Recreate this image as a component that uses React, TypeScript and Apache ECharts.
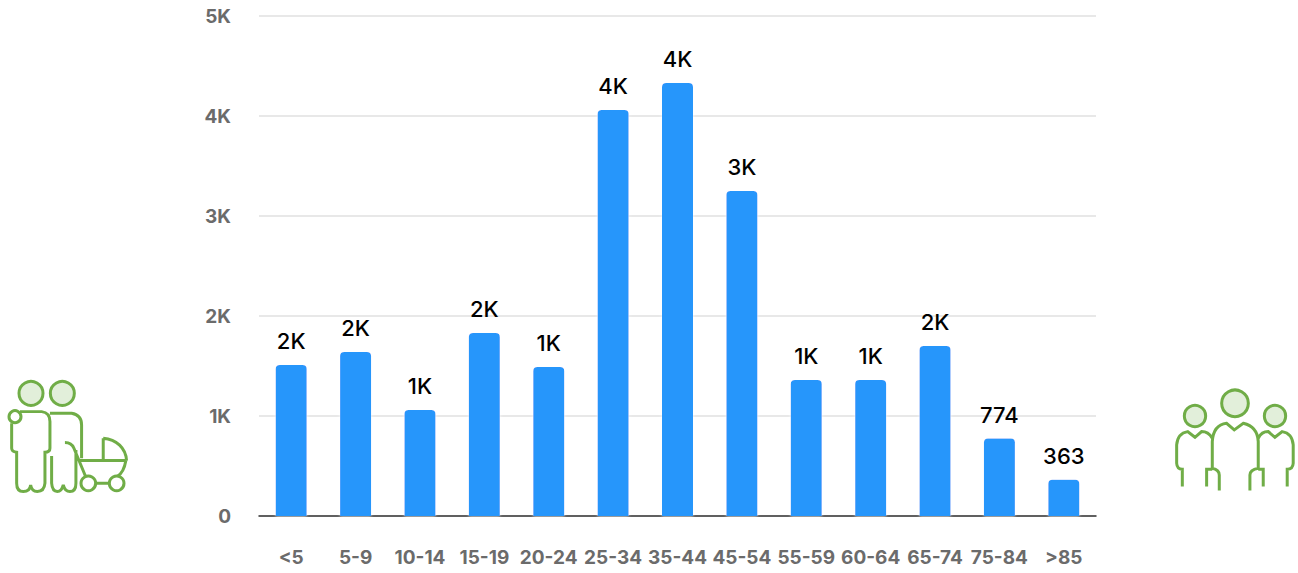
import React, { useEffect, useRef } from "react";
import * as echarts from "echarts";

const categories = ["<5", "5-9", "10-14", "15-19", "20-24", "25-34", "35-44", "45-54", "55-59", "60-64", "65-74", "75-84", ">85"];
const population = [1510, 1640, 1060, 1830, 1490, 4060, 4330, 3250, 1360, 1360, 1700, 774, 363];
const yTicks = { max: 5000, step: 1000 };

const FONT = "Inter";
const GREEN = "#70AD47";
const PALE = "#E2EFDA";

const couplePath =
  "M60 125L125 125Q150 128 150 155L150 235Q150 247 135 247L135 340Q133 365 112 365Q95 365 92 345Q90 365 70 365Q50 365 50 340L50 247Q35 245 35 235L35 160" +
  "M150 130L215 130Q245 135 245 165L245 265" +
  "M155 258L155 340Q157 365 172 365Q185 365 190 345Q195 365 210 365Q228 365 228 340L228 240" +
  "M195 218Q215 218 222 235L258 322" +
  "M240 272L378 272Q372 308 352 320" +
  "M287 340L328 340" +
  "M310 205L310 272M310 205C350 208 378 235 380 272";
const familyPath =
  "M142 265L142 185Q145 135 185 130L208 150L235 130Q278 140 280 185L280 265" +
  "M142 265Q163 270 163 285L163 332M280 265Q255 270 255 285L255 332" +
  "M142 175Q130 155 110 155L90 172L68 155Q38 160 35 195L35 250Q36 268 52 268L52 320M125 320L125 268L142 268" +
  "M280 175Q290 155 310 155L330 172L352 155Q382 160 385 195L385 250Q384 268 367 268L367 320M295 320L295 268L280 268";

echarts.graphic.registerShape("couple", echarts.graphic.extendPath(couplePath, {}));
echarts.graphic.registerShape("family", echarts.graphic.extendPath(familyPath, {}));

function fmt(v: number) {
  return v >= 1000 ? `${Math.round(v / 1000)}K` : `${v}`;
}

function circle(ox: number, oy: number, cx: number, cy: number, r: number, fill: string) {
  return {
    type: "circle",
    shape: { cx: ox + cx / 3, cy: oy + cy / 3, r: r / 3 },
    style: { fill, stroke: GREEN, lineWidth: 3 },
    silent: true,
  };
}

function stroke(type: string, ox: number, oy: number) {
  return {
    type,
    x: ox,
    y: oy,
    scaleX: 1 / 3,
    scaleY: 1 / 3,
    style: { fill: "none", stroke: GREEN, lineWidth: 9 },
    silent: true,
  };
}

export default function App() {
  const ref = useRef<HTMLDivElement>(null);
  useEffect(() => {
    const chart = echarts.init(ref.current!, undefined, { renderer: "svg" });
    chart.setOption({
      animation: false,
      backgroundColor: "#fff",
      grid: { left: 259, right: 202, top: 16, bottom: 57, containLabel: false },
      xAxis: {
        type: "category",
        data: categories,
        axisTick: { show: false },
        axisLine: { show: true, lineStyle: { color: "#333", width: 1.5 } },
        axisLabel: { interval: 0, margin: 32, color: "#6b6b6b", fontFamily: FONT, fontWeight: 700, fontSize: 19 },
      },
      yAxis: {
        type: "value",
        min: 0,
        max: yTicks.max,
        interval: yTicks.step,
        axisLine: { show: false },
        axisTick: { show: false },
        splitLine: { lineStyle: { color: "#e8e8e8", width: 2 } },
        axisLabel: { margin: 28, color: "#6b6b6b", fontFamily: FONT, fontWeight: 700, fontSize: 19, formatter: (v: number) => fmt(v) },
      },
      series: [
        {
          type: "bar",
          data: population,
          barWidth: 31,
          itemStyle: { color: "#2696FB", borderRadius: [4, 4, 0, 0], shadowColor: "#fff", shadowBlur: 3 },
          label: {
            show: true,
            position: "top",
            distance: 13,
            color: "#000",
            fontFamily: FONT,
            fontWeight: 500,
            fontSize: 22,
            formatter: (p: any) => fmt(p.value),
          },
        },
      ],
      graphic: [
        stroke("couple", 0, 370),
        circle(0, 370, 93, 70, 36, PALE),
        circle(0, 370, 187, 70, 36, PALE),
        circle(0, 370, 45, 140, 18, "#fff"),
        circle(0, 370, 265, 340, 22, "#fff"),
        circle(0, 370, 350, 340, 22, "#fff"),
        stroke("family", 1165, 380),
        circle(1165, 380, 210, 70, 40, PALE),
        circle(1165, 380, 90, 108, 32, PALE),
        circle(1165, 380, 330, 108, 32, PALE),
      ],
    });
    return () => chart.dispose();
  }, []);
  return <div ref={ref} style={{ position: "absolute", left: 0, top: 0, width: 1298, height: 573 }} />;
}
